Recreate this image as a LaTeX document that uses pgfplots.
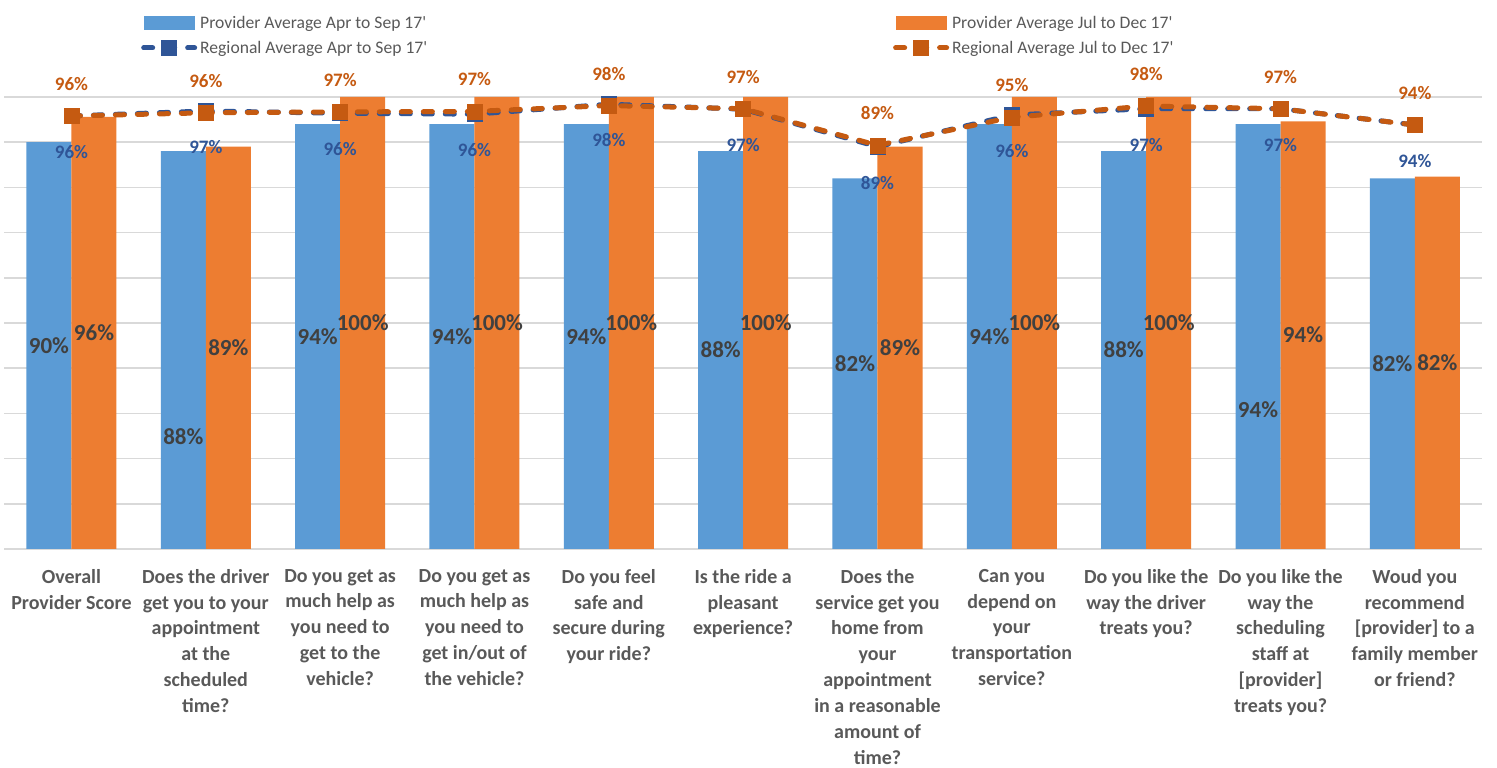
\documentclass[border=0pt]{standalone}
\usepackage{pgfplots}
\pgfplotsset{compat=1.18}
\usepackage{fontspec}
\setmainfont{Carlito}
\definecolor{barblue}{HTML}{5B9BD5}
\definecolor{barorange}{HTML}{ED7D31}
\definecolor{lineblue}{HTML}{2F5597}
\definecolor{lineorange}{HTML}{C55A11}
\definecolor{labgray}{HTML}{404040}
\definecolor{txtgray}{HTML}{595959}
\definecolor{gridgray}{HTML}{D9D9D9}
\pgfplotsset{
  lineleg/.style={legend image code/.code={\draw[mark repeat=2,mark phase=2,##1] plot coordinates {(0pt,0pt) (25.5pt,0pt) (51pt,0pt)};}},
}
\begin{document}
\begin{tikzpicture}
\begin{axis}[
  name=ax,
  scale only axis,
  width=1478pt, height=452pt,
  xmin=-0.5, xmax=10.5, ymin=0, ymax=100,
  clip=false,
  axis line style={draw=none},
  ytick={0,10,...,100}, yticklabels={},
  ymajorgrids, grid style={gridgray, line width=1.6pt},
  major tick length=0pt,
  xtick={0,...,10},
  xticklabels={
    {Overall\\Provider Score},
    {Does the driver\\get you to your\\appointment\\at the\\scheduled\\time?},
    {Do you get as\\much help as\\you need to\\get to the\\vehicle?},
    {Do you get as\\much help as\\you need to\\get in/out of\\the vehicle?},
    {Do you feel\\safe and\\secure during\\your ride?},
    {Is the ride a\\pleasant\\experience?},
    {Does the\\service get you\\home from\\your\\appointment\\in a reasonable\\amount of\\time?},
    {Can you\\depend on\\your\\transportation\\service?},
    {Do you like the\\way the driver\\treats you?},
    {Do you like the\\way the\\scheduling\\staff at\\{}[provider]\\treats you?},
    {Woud you\\recommend\\{}[provider] to a\\family member\\or friend?}
  },
  xticklabel style={font=\fontsize{20}{25.9}\selectfont\bfseries, text=txtgray, align=center, anchor=north, inner sep=0pt, yshift=-20pt},
  legend columns=2,
  legend cell align=left,
  legend style={draw=none, fill=none, inner sep=0pt, at={(0.0925,1.191)}, anchor=north west,
    font=\fontsize{17.6}{21}\selectfont, text=txtgray,
    nodes={inner xsep=3pt, inner ysep=5.5pt},
    /tikz/every even column/.append style={column sep=463pt}},
]
\addplot[ybar, bar width=0.335, bar shift=-0.1675, fill=barblue, draw=none,
  legend image code/.code={\fill[barblue] (0pt,-7pt) rectangle (51pt,7pt);}]
  coordinates {(0,90) (1,88) (2,94) (3,94) (4,94) (5,88) (6,82) (7,94) (8,88) (9,94) (10,82)};
\addlegendentry{Provider Average Apr to Sep 17\textquotesingle}
\addplot[ybar, bar width=0.335, bar shift=0.1675, fill=barorange, draw=none,
  legend image code/.code={\fill[barorange] (0pt,-7pt) rectangle (51pt,7pt);}]
  coordinates {(0,95.6) (1,89) (2,100) (3,100) (4,100) (5,100) (6,89) (7,100) (8,100) (9,94.6) (10,82.4)};
\addlegendentry{Provider Average Jul to Dec 17\textquotesingle}
\addplot[lineblue, line width=5pt, dash pattern=on 9pt off 13pt, line cap=round,
  mark=square*, mark size=7.5pt, mark options={solid, line width=0.5pt, fill=lineblue},
  lineleg,
  nodes near coords, point meta=explicit symbolic, nodes near coords align=center,
  every node near coord/.append style={font=\fontsize{19}{19}\selectfont\bfseries, text=lineblue, yshift=-36pt}]
  coordinates {(0,95.8)[96\%] (1,96.9)[97\%] (2,96.4)[96\%] (3,96.2)[96\%] (4,98.4)[98\%] (5,97.3)[97\%]
    (6,89.0)[89\%] (7,96.0)[96\%] (8,97.4)[97\%] (9,97.4)[97\%] (10,93.8)[94\%]};
\addlegendentry{Regional Average Apr to Sep 17\textquotesingle}
\addplot[lineorange, line width=5pt, dash pattern=on 9pt off 13pt, line cap=round,
  mark=square*, mark size=7.5pt, mark options={solid, line width=0.5pt, fill=lineorange},
  lineleg,
  nodes near coords, point meta=explicit symbolic, nodes near coords align=center,
  every node near coord/.append style={font=\fontsize{19}{19}\selectfont\bfseries, text=lineorange, yshift=32pt}]
  coordinates {(0,95.8)[96\%] (1,96.5)[96\%] (2,96.7)[97\%] (3,96.8)[97\%] (4,98.1)[98\%] (5,97.4)[97\%]
    (6,89.3)[89\%] (7,95.5)[95\%] (8,98.0)[98\%] (9,97.4)[97\%] (10,93.8)[94\%]};
\addlegendentry{Regional Average Jul to Dec 17\textquotesingle}
% bar value labels
\addplot[forget plot, draw=none, mark=none, nodes near coords, point meta=explicit symbolic,
  nodes near coords align=center,
  every node near coord/.append style={font=\fontsize{23}{23}\selectfont\bfseries, text=labgray}]
  coordinates {(-0.1675,45)[90\%] (0.8325,24.8)[88\%] (1.8325,47)[94\%] (2.8325,47)[94\%] (3.8325,47)[94\%]
    (4.8325,44)[88\%] (5.8325,41)[82\%] (6.8325,47)[94\%] (7.8325,44)[88\%] (8.8325,30.8)[94\%] (9.8325,41)[82\%]};
\addplot[forget plot, draw=none, mark=none, nodes near coords, point meta=explicit symbolic,
  nodes near coords align=center,
  every node near coord/.append style={font=\fontsize{23}{23}\selectfont\bfseries, text=labgray}]
  coordinates {(0.1675,47.8)[96\%] (1.1675,44.5)[89\%] (2.1675,50)[100\%] (3.1675,50)[100\%] (4.1675,50)[100\%]
    (5.1675,50)[100\%] (6.1675,44.5)[89\%] (7.1675,50)[100\%] (8.1675,50)[100\%] (9.1675,47.3)[94\%] (10.1675,41.2)[82\%]};
\end{axis}
\pgfresetboundingbox
\path[use as bounding box] ([xshift=-4.3pt,yshift=-219pt]ax.south west) rectangle ([xshift=15pt,yshift=97pt]ax.north east);
\end{tikzpicture}
\end{document}
